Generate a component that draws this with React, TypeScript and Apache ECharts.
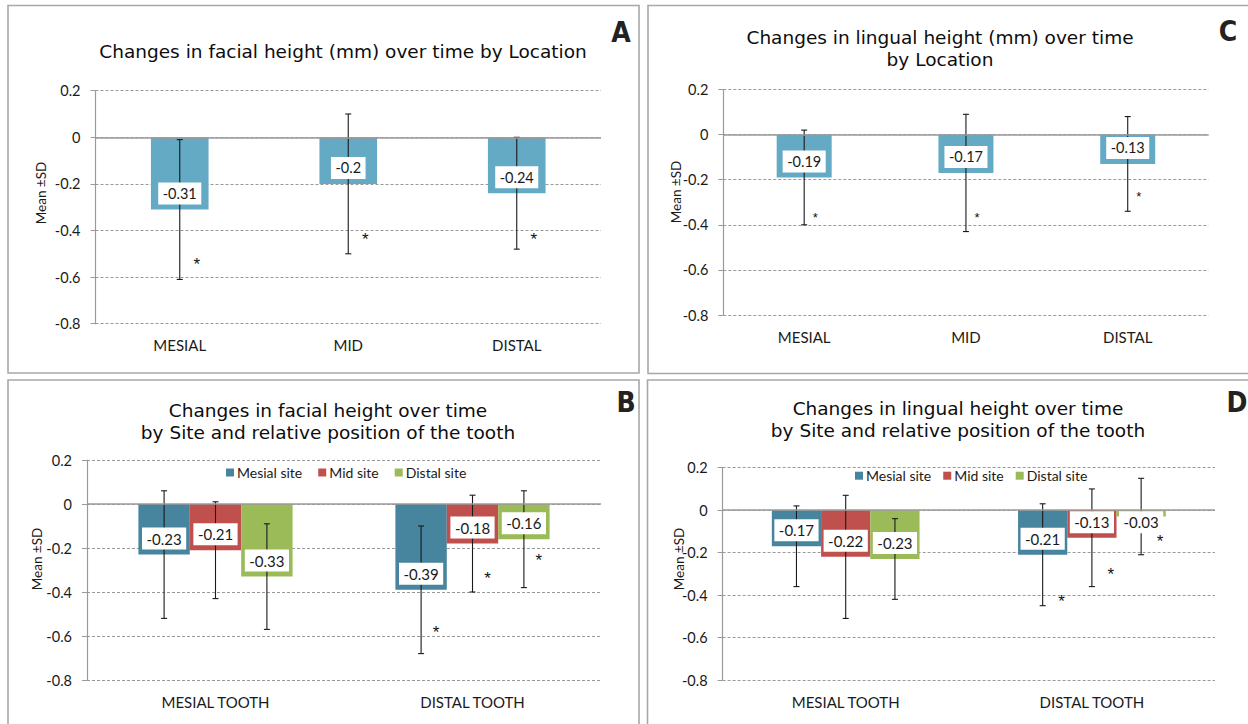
import React, { useEffect, useRef } from "react";
import * as echarts from "echarts";

// ---------- data ----------
const locationCats = ["MESIAL", "MID", "DISTAL"];
const toothCats = ["MESIAL TOOTH", "DISTAL TOOTH"];
const siteNames = ["Mesial site", "Mid site", "Distal site"];

// Panel A: facial height by location
const facialLocMean = [-0.31, -0.2, -0.24];
const facialLocLow = [-0.61, -0.5, -0.48];
const facialLocHigh = [-0.01, 0.1, 0.0];
const facialLocStar = [-0.53, -0.42, -0.42];

// Panel C: lingual height by location
const lingualLocMean = [-0.19, -0.17, -0.13];
const lingualLocLow = [-0.4, -0.43, -0.34];
const lingualLocHigh = [0.02, 0.09, 0.08];
const lingualLocStar = [-0.35, -0.35, -0.255];

// Panel B: facial height by site (rows = site, cols = tooth)
const facialSiteMean = [[-0.23, -0.39], [-0.21, -0.18], [-0.33, -0.16]];
const facialSiteLow = [[-0.52, -0.68], [-0.43, -0.4], [-0.57, -0.38]];
const facialSiteHigh = [[0.06, -0.1], [0.01, 0.04], [-0.09, 0.06]];
const facialSiteStar = [[null, -0.565], [null, -0.32], [null, -0.24]];

// Panel D: lingual height by site
const lingualSiteMean = [[-0.17, -0.21], [-0.22, -0.13], [-0.23, -0.03]];
const lingualSiteLow = [[-0.36, -0.45], [-0.51, -0.36], [-0.42, -0.21]];
const lingualSiteHigh = [[0.02, 0.03], [0.07, 0.1], [-0.04, 0.15]];
const lingualSiteStar = [[null, -0.41], [null, -0.284], [null, -0.13]];

// ---------- styles ----------
const TITLE_FONT = "DejaVu Sans";
const BODY_FONT = "Lato";
const GRID_COLOR = "#9a9a9a";
const TEXT_COLOR = "#1a1a1a";
const LOC_COLOR = "#64aac4";
const SITE_COLORS = ["#47849e", "#c0504d", "#9bbb59"];

type PanelCfg = {
  grid: { left: number; top: number; width: number; height: number };
  cats: string[];
  names: string[];
  colors: string[];
  means: number[][];
  lows: number[][];
  highs: number[][];
  stars: (number | null)[][];
  barRatio: number;
  starDx: number;
  starSize: number;
  labelSize: number;
};

const panels: PanelCfg[] = [
  {
    grid: { left: 95.5, top: 90.7, width: 505.5, height: 233 },
    cats: locationCats,
    names: ["Facial location"],
    colors: [LOC_COLOR],
    means: [facialLocMean],
    lows: [facialLocLow],
    highs: [facialLocHigh],
    stars: [facialLocStar],
    barRatio: 0.342,
    starDx: 17,
    starSize: 17,
    labelSize: 14.5,
  },
  {
    grid: { left: 723.3, top: 89.5, width: 485.3, height: 225.5 },
    cats: locationCats,
    names: ["Lingual location"],
    colors: [LOC_COLOR],
    means: [lingualLocMean],
    lows: [lingualLocLow],
    highs: [lingualLocHigh],
    stars: [lingualLocStar],
    barRatio: 0.34,
    starDx: 11,
    starSize: 13,
    labelSize: 14.5,
  },
  {
    grid: { left: 87, top: 460, width: 514, height: 220 },
    cats: toothCats,
    names: siteNames,
    colors: SITE_COLORS,
    means: facialSiteMean,
    lows: facialSiteLow,
    highs: facialSiteHigh,
    stars: facialSiteStar,
    barRatio: 0.2,
    starDx: 15,
    starSize: 17,
    labelSize: 15,
  },
  {
    grid: { left: 722.6, top: 467.7, width: 492.4, height: 212.3 },
    cats: toothCats,
    names: siteNames,
    colors: SITE_COLORS,
    means: lingualSiteMean,
    lows: lingualSiteLow,
    highs: lingualSiteHigh,
    stars: lingualSiteStar,
    barRatio: 0.2,
    starDx: 19,
    starSize: 17,
    labelSize: 15,
  },
];

function buildOption() {
  const grids: any[] = [];
  const xAxes: any[] = [];
  const yAxes: any[] = [];
  const series: any[] = [];

  panels.forEach((p, g) => {
    grids.push({ ...p.grid, containLabel: false });
    xAxes.push({
      type: "category",
      gridIndex: g,
      data: p.cats,
      axisLine: { show: false, onZero: false },
      axisTick: { show: false },
      splitLine: { show: false },
      axisLabel: {
        margin: 14,
        color: TEXT_COLOR,
        fontFamily: BODY_FONT,
        fontSize: 15,
      },
    });
    yAxes.push({
      type: "value",
      gridIndex: g,
      min: -0.8,
      max: 0.2,
      interval: 0.2,
      axisLine: { show: true, lineStyle: { color: GRID_COLOR, width: 1.2 } },
      axisTick: { show: true, length: 5, lineStyle: { color: GRID_COLOR } },
      axisLabel: {
        margin: 15,
        color: TEXT_COLOR,
        fontFamily: BODY_FONT,
        fontSize: 14.5,
        formatter: (v: number) => String(Math.round(v * 10) / 10),
      },
      splitLine: {
        show: true,
        lineStyle: { color: GRID_COLOR, type: [3, 2], width: 1 },
      },
    });

    const n = p.names.length;
    p.names.forEach((name, s) => {
      series.push({
        type: "bar",
        name,
        xAxisIndex: g,
        yAxisIndex: g,
        data: p.means[s],
        barWidth: `${p.barRatio * 100}%`,
        barGap: "0%",
        itemStyle: { color: p.colors[s] },
        z: 2,
        markLine:
          s === 0
            ? {
                silent: true,
                symbol: "none",
                label: { show: false },
                lineStyle: { color: GRID_COLOR, type: "solid", width: 1.6 },
                data: [{ yAxis: 0 }],
              }
            : undefined,
      });
    });
    p.names.forEach((name, s) => {
      const means = p.means[s];
      const lows = p.lows[s];
      const highs = p.highs[s];
      const stars = p.stars[s];
      series.push({
        type: "custom",
        name: `err-${g}-${s}`,
        xAxisIndex: g,
        yAxisIndex: g,
        z: 4,
        silent: true,
        data: means.map((m, i) => [i, m, lows[i], highs[i]]),
        encode: { x: 0, y: [1, 2, 3] },
        renderItem: (params: any, api: any) => {
          const i = params.dataIndex;
          const mean = means[i];
          const band = api.size([1, 0])[0];
          const bw = band * p.barRatio;
          const base = api.coord([i, 0]);
          const cx = base[0] + (s - (n - 1) / 2) * bw;
          const y0 = base[1];
          const yM = api.coord([i, mean])[1];
          const yL = api.coord([i, lows[i]])[1];
          const yH = api.coord([i, highs[i]])[1];
          const ls = { stroke: "#1a1a1a", lineWidth: 1.1 };
          const children: any[] = [
            { type: "line", shape: { x1: cx, y1: yH, x2: cx, y2: yL }, style: ls },
            { type: "line", shape: { x1: cx - 3, y1: yH, x2: cx + 3, y2: yH }, style: ls },
            { type: "line", shape: { x1: cx - 3, y1: yL, x2: cx + 3, y2: yL }, style: ls },
            {
              type: "text",
              x: cx,
              y: Math.max(yM - 16, y0 + 12),
              style: {
                text: String(mean),
                align: "center",
                verticalAlign: "middle",
                fontSize: p.labelSize,
                fontFamily: BODY_FONT,
                fill: TEXT_COLOR,
                backgroundColor: "#ffffff",
                padding: [3.5, 4.5],
              },
            },
          ];
          const st = stars[i];
          if (st !== null && st !== undefined) {
            children.push({
              type: "text",
              x: cx + p.starDx,
              y: api.coord([i, st])[1] + 4,
              style: {
                text: "*",
                align: "center",
                verticalAlign: "middle",
                fontSize: p.starSize,
                fontFamily: "Liberation Sans",
                fill: "#111",
              },
            });
          }
          return { type: "group", children };
        },
      });
    });
  });

  const titleStyle = {
    fontFamily: TITLE_FONT,
    fontSize: 18.5,
    fontWeight: "normal",
    color: "#0d0d0d",
    lineHeight: 22,
  };

  const titles = [
    { text: "Changes in facial height (mm) over time by Location", left: 343, top: 40 },
    { text: "Changes in lingual height (mm) over time\nby Location", left: 940, top: 26 },
    {
      text: "Changes in facial height over time\nby Site and relative position of the tooth",
      left: 328,
      top: 399,
    },
    {
      text: "Changes in lingual height over time\nby Site and relative position of the tooth",
      left: 958,
      top: 397,
    },
  ].map((t) => ({ ...t, textAlign: "center", padding: 0, textStyle: titleStyle }));

  const legendBase = {
    data: siteNames,
    orient: "horizontal",
    itemWidth: 8,
    itemHeight: 8,
    icon: "rect",
    padding: 0,
    selectedMode: false,
    textStyle: { fontFamily: BODY_FONT, fontSize: 14, color: TEXT_COLOR, padding: [0, 0, 0, -2] },
  };

  const borderStyle = { fill: "none", stroke: "#a8a8a8", lineWidth: 1.6 };
  const letter = (t: string, x: number, y: number) => ({
    type: "text",
    x,
    y,
    style: {
      text: t,
      align: "center",
      verticalAlign: "middle",
      fontFamily: "Liberation Sans Narrow, DejaVu Sans Condensed",
      fontWeight: "bold",
      fontSize: 28,
      fill: "#222",
    },
  });
  const axisName = (x: number, y: number) => ({
    type: "text",
    x,
    y,
    rotation: Math.PI / 2,
    style: {
      text: "Mean ±SD",
      align: "center",
      verticalAlign: "middle",
      fontFamily: BODY_FONT,
      fontSize: 13.5,
      fill: TEXT_COLOR,
    },
  });

  return {
    animation: false,
    backgroundColor: "#ffffff",
    title: titles,
    legend: [
      { ...legendBase, itemGap: 16, left: 226, top: 465.5 },
      { ...legendBase, itemGap: 12, left: 855, top: 468.7 },
    ],
    grid: grids,
    xAxis: xAxes,
    yAxis: yAxes,
    series,
    graphic: [
      { type: "rect", shape: { x: 8, y: 5.5, width: 631, height: 367.5 }, style: borderStyle, silent: true },
      { type: "rect", shape: { x: 648, y: 5.5, width: 640, height: 368 }, style: borderStyle, silent: true },
      { type: "rect", shape: { x: 8, y: 380, width: 631, height: 380 }, style: borderStyle, silent: true },
      { type: "rect", shape: { x: 647.5, y: 380, width: 640, height: 380 }, style: borderStyle, silent: true },
      letter("A", 621, 32),
      letter("C", 1228, 31),
      letter("B", 626, 402),
      letter("D", 1237, 402),
      axisName(41, 193),
      axisName(676, 192),
      axisName(37, 559),
      axisName(679, 559),
    ],
  };
}

export default function App() {
  const ref = useRef<HTMLDivElement>(null);
  useEffect(() => {
    if (!ref.current) return;
    const chart = echarts.init(ref.current, undefined, { renderer: "svg" });
    chart.setOption(buildOption() as any);
    return () => chart.dispose();
  }, []);
  return (
    <div
      ref={ref}
      style={{ position: "absolute", left: 0, top: 0, width: 1248, height: 724, background: "#fff" }}
    />
  );
}
